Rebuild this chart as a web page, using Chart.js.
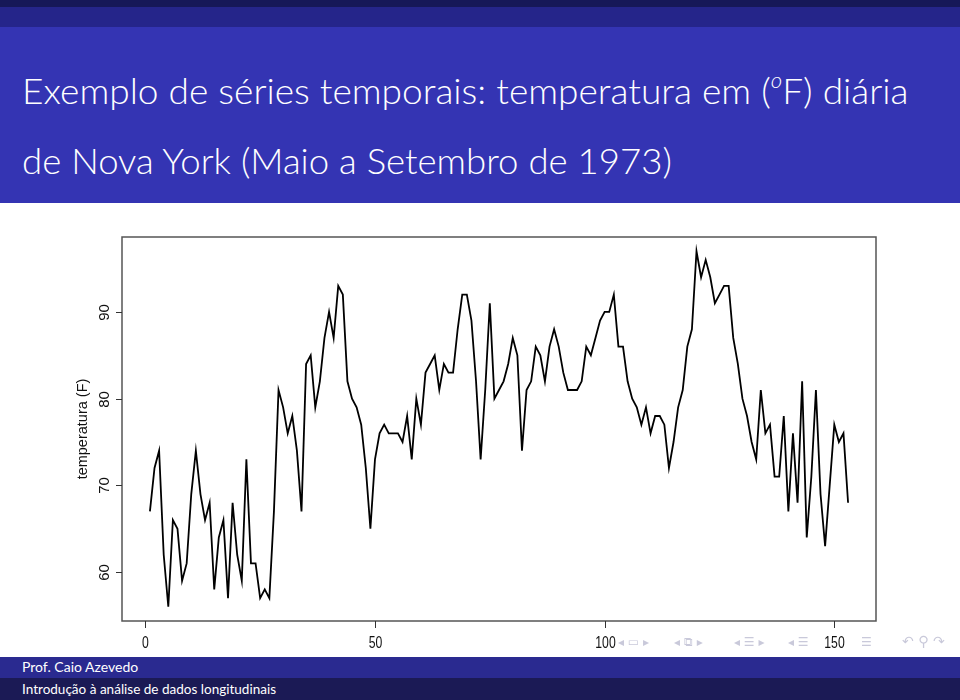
<!DOCTYPE html>
<html>
<head>
<meta charset="utf-8">
<script src="https://cdn.jsdelivr.net/npm/chart.js@4.4.0/dist/chart.umd.min.js"></script>
<style>
  html, body { margin: 0; padding: 0; background: #fff; }
  #page { position: relative; width: 960px; height: 700px; overflow: hidden; font-family: Lato, "DejaVu Sans", sans-serif; }
  .band { position: absolute; left: 0; width: 960px; }
  .tline { position: absolute; left: 22px; color: #fff; font-size: 36px; font-weight: 300; white-space: nowrap; transform-origin: 0 50%; }
  .foot { position: absolute; left: 22px; color: #fff; font-size: 14px; white-space: nowrap; transform-origin: 0 50%; }
  .nav { position: absolute; color: #c9c9da; font-family: "DejaVu Sans", sans-serif; font-size: 12px; top: 635px; white-space: nowrap; }
  #wrap { position: absolute; left: 0; top: 205px; width: 960px; height: 452px; }
</style>
</head>
<body>
<div id="page">
  <div class="band" style="top:0;height:7px;background:#161858"></div>
  <div class="band" style="top:7px;height:20px;background:#25258a"></div>
  <div class="band" style="top:27px;height:176px;background:#3434b3"></div>
  <div class="tline" id="t1" style="top:67px">Exemplo de séries temporais: temperatura em (<sup style="font-size:60%;font-style:italic;vertical-align:0.75em">o</sup>F) diária</div>
  <div class="tline" id="t2" style="top:138px">de Nova York (Maio a Setembro de 1973)</div>

  <div id="wrap"><canvas id="myChart" width="960" height="452"></canvas></div>

  <div class="nav" style="left:618px">◂ ▭ ▸</div>
  <div class="nav" style="left:674px">◂ ⧉ ▸</div>
  <div class="nav" style="left:734px">◂ ☰ ▸</div>
  <div class="nav" style="left:788px">◂ ☰</div>
  <div class="nav" style="left:861px">☰</div>
  <div class="nav" style="left:902px;font-size:14px;top:633px">↶ ⚲ ↷</div>

  <div class="band" style="top:657px;height:21px;background:#2a2a90"></div>
  <div class="band" style="top:678px;height:22px;background:#1b1a55"></div>
  <div class="foot" id="f1" style="top:658px">Prof. Caio Azevedo</div>
  <div class="foot" id="f2" style="top:680px">Introdução à análise de dados longitudinais</div>
</div>
<script>
// temperatura diaria (F), Nova York, maio a setembro de 1973
var temp = [67, 72, 74, 62, 56, 66, 65, 59, 61, 69, 74, 69, 66, 68, 58, 64, 66, 57, 68, 62, 59, 73, 61, 61, 57, 58, 57, 67, 81, 79, 76,
  78, 74, 67, 84, 85, 79, 82, 87, 90, 87, 93, 92, 82, 80, 79, 77, 72, 65, 73, 76, 77, 76, 76, 76, 75, 78, 73, 80, 77, 83,
  84, 85, 81, 84, 83, 83, 88, 92, 92, 89, 82, 73, 81, 91, 80, 81, 82, 84, 87, 85, 74, 81, 82, 86, 85, 82, 86, 88, 86, 83, 81,
  81, 81, 82, 86, 85, 87, 89, 90, 90, 92, 86, 86, 82, 80, 79, 77, 79, 76, 78, 78, 77, 72, 75, 79, 81, 86, 88, 97, 94, 96, 94,
  91, 92, 93, 93, 87, 84, 80, 78, 75, 73, 81, 76, 77, 71, 71, 78, 67, 76, 68, 82, 64, 71, 81, 69, 63, 70, 77, 75, 76, 68];
var xTicks = [0, 50, 100, 150];
var yTicks = [60, 70, 80, 90];
var yTitle = 'temperatura (F)';

// ajusta largura dos titulos
function fit(id, w) {
  var el = document.getElementById(id);
  el.style.transform = 'scaleX(' + (w / el.offsetWidth) + ')';
}
fit('t1', 887); fit('t2', 650); fit('f1', 116); fit('f2', 254);

var pontos = temp.map(function (v, i) { return { x: i + 1, y: v }; });

// eixos estilo R
var eixosR = {
  id: 'eixosR',
  afterDraw: function (chart) {
    var ctx = chart.ctx, a = chart.chartArea;
    var sx = chart.scales.x, sy = chart.scales.y;
    ctx.save();
    ctx.strokeStyle = '#555';
    ctx.lineWidth = 1.5;
    ctx.strokeRect(a.left, a.top, a.right - a.left, a.bottom - a.top);
    ctx.strokeStyle = '#333';
    ctx.lineWidth = 1;
    ctx.fillStyle = '#111';
    ctx.font = '16.5px "Liberation Sans", Arial, sans-serif';
    xTicks.forEach(function (v) {
      var x = Math.round(sx.getPixelForValue(v)) + 0.5;
      ctx.beginPath(); ctx.moveTo(x, a.bottom); ctx.lineTo(x, a.bottom + 7); ctx.stroke();
      ctx.save();
      ctx.translate(x, a.bottom + 22);
      ctx.scale(0.74, 1);
      ctx.textAlign = 'center'; ctx.textBaseline = 'middle';
      ctx.fillText(String(v), 0, 0);
      ctx.restore();
    });
    ctx.font = '15px "Liberation Sans", Arial, sans-serif';
    yTicks.forEach(function (v) {
      var y = Math.round(sy.getPixelForValue(v)) + 0.5;
      ctx.beginPath(); ctx.moveTo(a.left - 6, y); ctx.lineTo(a.left, y); ctx.stroke();
      ctx.save();
      ctx.translate(a.left - 17, y);
      ctx.rotate(-Math.PI / 2);
      ctx.textAlign = 'center'; ctx.textBaseline = 'middle';
      ctx.fillText(String(v), 0, 0);
      ctx.restore();
    });
    ctx.save();
    ctx.font = '14.5px "Liberation Sans", Arial, sans-serif';
    ctx.translate(a.left - 39, (a.top + a.bottom) / 2);
    ctx.rotate(-Math.PI / 2);
    ctx.textAlign = 'center'; ctx.textBaseline = 'middle';
    ctx.fillText(yTitle, 0, 0);
    ctx.restore();
    ctx.restore();
  }
};

var ctx = document.getElementById('myChart').getContext('2d');
var chart = new Chart(ctx, {
  type: 'line',
  data: {
    datasets: [{
      label: 'Temp',
      data: pontos,
      borderColor: '#000',
      borderWidth: 1.8,
      pointRadius: 0,
      fill: false,
      tension: 0
    }]
  },
  options: {
    responsive: false,
    animation: false,
    layout: { padding: { left: 122, right: 84, top: 32, bottom: 36 } },
    plugins: { legend: { display: false }, tooltip: { enabled: false } },
    scales: {
      x: { type: 'linear', display: false, min: -5.08, max: 159.08 },
      y: { type: 'linear', display: false, min: 54.36, max: 98.64 }
    }
  },
  plugins: [eixosR]
});
</script>
</body>
</html>
